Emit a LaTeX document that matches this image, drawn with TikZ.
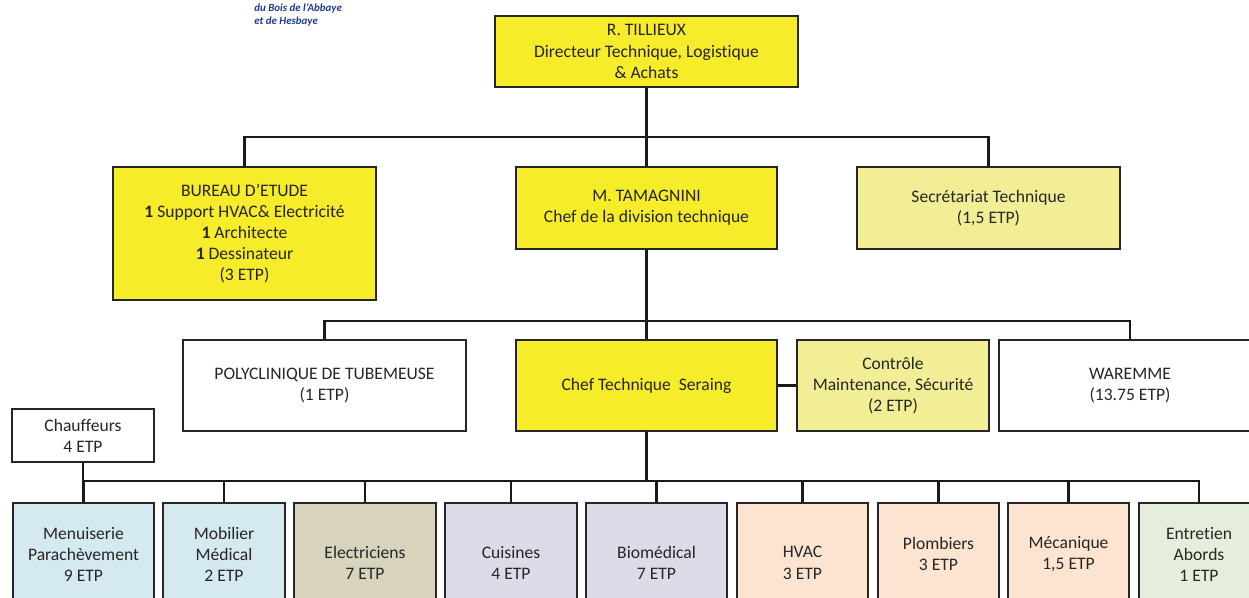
\documentclass[tikz,border=0pt]{standalone}
\usepackage{fontspec}
\setmainfont{Carlito}[Ligatures=NoCommon]
\usetikzlibrary{positioning}
\definecolor{orgYellow}{HTML}{F6EC2A}
\definecolor{orgPale}{HTML}{F2EE96}
\definecolor{teamBlue}{HTML}{D5E9F0}
\definecolor{teamTan}{HTML}{D7D3BD}
\definecolor{teamLilac}{HTML}{DEDAE8}
\definecolor{teamPeach}{HTML}{FDE4D0}
\definecolor{teamGreen}{HTML}{E5EEDB}
\definecolor{logoBlue}{HTML}{1E3C8C}

\begin{document}
\begin{tikzpicture}[
    unit/.style={rectangle, draw=black!85, line width=1pt, align=center,
                 inner sep=2pt, font=\fontsize{10}{12}\selectfont, text=black!85},
    headunit/.style={unit, fill=orgYellow},
    paleunit/.style={unit, fill=orgPale},
    whiteunit/.style={unit, fill=white},
    team/.style={unit, anchor=north},
    link/.style={line width=1.6pt, black!90},
  ]
    \useasboundingbox (0,0) rectangle (24.98,-11.94);
    \clip (0,0) rectangle (24.98,-11.94);

    % Logo text (cut at the top)
    \node[font=\fontsize{6.2}{7.4}\selectfont\bfseries\itshape, text=logoBlue,
          align=left, anchor=north west, inner sep=0pt] (logo) at (5.08,-0.06)
      {du Bois de l’Abbaye\\et de Hesbaye};

    % Direction
    \node[headunit, minimum width=6.06cm, minimum height=1.42cm] (tillieux) at (12.93,-1.03)
      {R. TILLIEUX\\Directeur Technique, Logistique\\\& Achats};

    % Second level
    \node[headunit, minimum width=5.26cm, minimum height=2.66cm] (bureau) at (4.89,-4.67)
      {BUREAU D’ETUDE\\\textbf{1} Support HVAC\& Electricité\\\textbf{1} Architecte\\\textbf{1} Dessinateur\\(3 ETP)};
    \node[headunit, minimum width=5.22cm, minimum height=1.64cm] (tamagnini) at (12.93,-4.16)
      {M. TAMAGNINI\\Chef de la division technique};
    \node[paleunit, minimum width=5.26cm, minimum height=1.64cm] (secr) at (19.77,-4.16)
      {Secrétariat Technique\\(1,5 ETP)};

    % Third level
    \node[whiteunit, minimum width=5.66cm, minimum height=1.82cm] (poly) at (6.49,-7.71)
      {POLYCLINIQUE DE TUBEMEUSE\\(1 ETP)};
    \node[headunit, minimum width=5.22cm, minimum height=1.82cm] (chef) at (12.93,-7.71)
      {Chef Technique~ Seraing};
    \node[paleunit, minimum width=3.84cm, minimum height=1.82cm] (controle) at (17.86,-7.71)
      {Contrôle\\Maintenance, Sécurité\\(2 ETP)};
    \node[whiteunit, minimum width=5.24cm, minimum height=1.82cm] (waremme) at (22.60,-7.71)
      {WAREMME\\(13.75 ETP)};
    \node[whiteunit, minimum width=2.84cm, minimum height=1.06cm] (chauffeurs) at (1.66,-8.71)
      {Chauffeurs\\4 ETP};

    % Teams (bottom edges fall outside the page)
    \foreach \nm/\xx/\ww/\hh/\col/\txt in {%
      menu/1.67/2.82/2.06/teamBlue/{Menuiserie\\Parachèvement\\9 ETP},
      mobilier/4.48/2.44/2.06/teamBlue/{Mobilier\\Médical\\2 ETP},
      elec/7.30/2.84/2.4/teamTan/{Electriciens\\7 ETP},
      cuisines/10.22/2.64/2.4/teamLilac/{Cuisines\\4 ETP},
      bio/13.13/2.82/2.4/teamLilac/{Biomédical\\7 ETP},
      hvac/16.05/2.62/2.4/teamPeach/{HVAC\\3 ETP},
      plomb/18.77/2.42/2.06/teamPeach/{Plombiers\\3 ETP},
      meca/21.37/2.42/2.06/teamPeach/{Mécanique\\1,5 ETP},
      entr/23.98/2.40/2.06/teamGreen/{Entretien\\Abords\\1 ETP}}{
      \node[team, fill=\col, minimum width=\ww cm, minimum height=\hh cm] (\nm) at (\xx,-10.04) {\txt};
    }

    % Connectors
    \coordinate (bus1) at (12.93,-2.74);
    \coordinate (bus2) at (12.93,-6.42);
    \coordinate (bus3) at (12.93,-9.62);
    \draw[link] (tillieux.south) -- (tamagnini.north);
    \draw[link] (bureau.north) |- (bus1) -| (secr.north);
    \draw[link] (tamagnini.south) -- (chef.north);
    \draw[link] (poly.north) |- (bus2) -| (waremme.north);
    \draw[link] (chef.east) -- (controle.west);
    \draw[link] (chef.south) -- (bus3);
    \draw[link] (menu.north) |- (bus3) -| (entr.north);
    \draw[link] (chauffeurs.south) -- (chauffeurs.south |- bus3);
    \foreach \nm in {mobilier,elec,cuisines,bio,hvac,plomb,meca}{
      \draw[link] (\nm.north) -- (\nm.north |- bus3);
    }
  \end{tikzpicture}
\end{document}
